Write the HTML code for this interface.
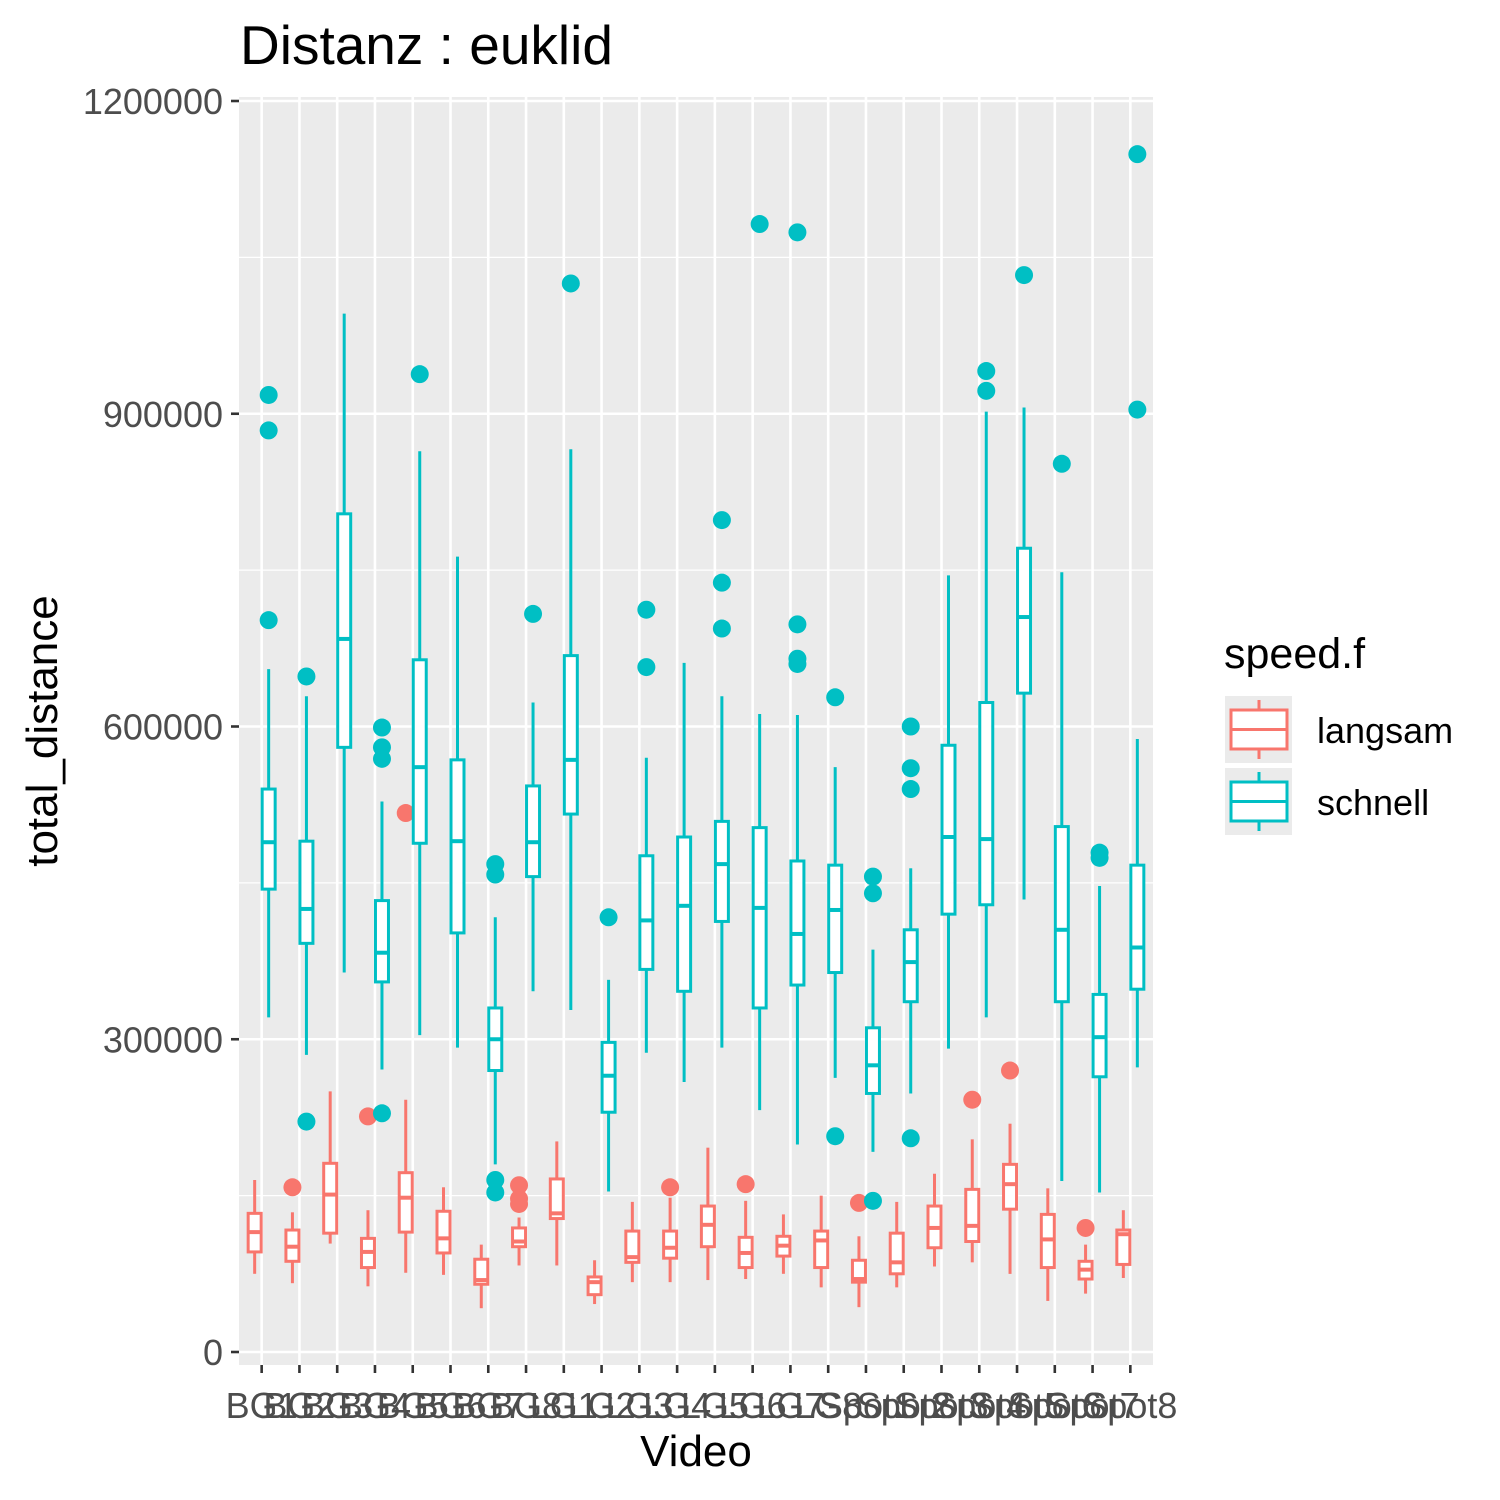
<!DOCTYPE html>
<html><head><meta charset="utf-8">
<style>
html,body{margin:0;padding:0;background:#fff;}
svg{display:block;font-family:"Liberation Sans",Arial,sans-serif;}
</style></head>
<body>
<svg id="chart" width="1500" height="1500" viewBox="0 0 1500 1500" xmlns="http://www.w3.org/2000/svg">
<rect x="0" y="0" width="1500" height="1500" fill="#fff"/>
<text x="240" y="64" font-size="55" fill="#000">Distanz : euklid</text>
<g id="panel"></g>
<g id="axes"></g>
<text x="696" y="1466" font-size="44" text-anchor="middle" fill="#000">Video</text>
<text transform="translate(57,731) rotate(-90)" font-size="44" text-anchor="middle" fill="#000">total_distance</text>
<g>
<text x="1224" y="668" font-size="43" fill="#000">speed.f</text>
<g>
<rect x="1225" y="696" width="67" height="67" fill="#ebebeb"/>
<line x1="1259" y1="700" x2="1259" y2="759" stroke="#F8766D" stroke-width="3"/>
<rect x="1231" y="710" width="56" height="39" fill="#fff" stroke="#F8766D" stroke-width="3"/>
<line x1="1231" y1="729.5" x2="1287" y2="729.5" stroke="#F8766D" stroke-width="3"/>
<text x="1317" y="743" font-size="36" fill="#000">langsam</text>
</g>
<g>
<rect x="1225" y="768" width="67" height="67" fill="#ebebeb"/>
<line x1="1259" y1="772" x2="1259" y2="831" stroke="#00BFC4" stroke-width="3"/>
<rect x="1231" y="782" width="56" height="39" fill="#fff" stroke="#00BFC4" stroke-width="3"/>
<line x1="1231" y1="801.5" x2="1287" y2="801.5" stroke="#00BFC4" stroke-width="3"/>
<text x="1317" y="815" font-size="36" fill="#000">schnell</text>
</g>
</g>
</svg>
<script>
const categories = ["BG1","BG2","BG3","BG4","BG5","BG6","BG7","BG8","LG1","LG2","LG3","LG4","LG5","LG6","LG7","LG8","Spot1","Spot2","Spot3","Spot4","Spot5","Spot6","Spot7","Spot8"];
const yTicks = [0,300000,600000,900000,1200000];
const yTickLabels = ["0","300000","600000","900000","1200000"];
// values in thousands: [whiskerLow, q1, median, q3, whiskerHigh]
const langsamStats = [
[75,96,115,133,165],[66,87,101,117,134],[104,114,151,181,250],[63,81,96,109,136],
[76,115,148,172,242],[74,95,109,135,158],[42,65,69,89,103],[83,101,106,119,129],
[83,128,133,166,202],[46,55,67,72,88],[67,86,91,116,144],[67,90,100,116,148],
[69,101,122,140,196],[70,81,95,110,145],[75,92,102,111,132],[62,81,107,116,150],
[43,67,70,88,111],[62,75,86,114,144],[82,100,119,140,171],[86,106,121,156,204],
[75,137,161,180,219],[49,81,108,132,157],[56,70,79,87,103],[71,84,113,117,136]];
const langsamOutliers = [[],[158],[],[226],[517],[],[],[160,147,142],[],[],[],[158],[],[161],[],[],[143],[],[],[242],[270],[],[119],[]];
const schnellStats = [
[321,444,489,540,655],[285,392,425,490,629],[364,580,684,804,996],[271,355,383,433,528],
[304,488,561,664,864],[292,402,490,568,763],[180,270,300,330,417],[346,456,489,543,623],
[328,516,568,668,866],[154,230,265,297,357],[287,367,414,476,570],[259,346,428,494,661],
[292,413,468,509,629],[232,330,426,503,612],[199,352,401,471,611],[263,364,424,467,561],
[192,248,275,311,386],[248,336,374,405,464],[291,420,494,582,745],[321,429,492,623,902],
[434,632,705,771,906],[164,336,405,504,748],[153,264,302,343,447],[273,348,388,467,588]];
const schnellOutliers = [[918,884,702],[648,221],[],[599,580,569,229],[938],[],[468,458,165,153],[708],
[1025],[417],[712,657],[],[798,738,694],[1082],[1074,698,665,660],[628,207],
[456,440,145],[600,560,540,205],[],[941,922],[1033],[852],[479,474],[1149,904]];

const NS="http://www.w3.org/2000/svg";
const PL=239, PR=1153, PT=97, PB=1365;
const step=(PR-PL)/(categories.length-1+1.2);
function xScale(i){return PL+step*(0.6+i);}
function yScale(v){return 1352 - v*1251/1200000;}
function mk(tag,attrs,parent){const e=document.createElementNS(NS,tag);for(const k in attrs)e.setAttribute(k,attrs[k]);parent.appendChild(e);return e;}
const panel=document.getElementById('panel');
const axes=document.getElementById('axes');
mk('rect',{x:PL,y:PT,width:PR-PL,height:PB-PT,fill:'#ebebeb'},panel);
for(let i=0;i<yTicks.length-1;i++){const v=(yTicks[i]+yTicks[i+1])/2;const y=yScale(v);
 mk('line',{x1:PL,x2:PR,y1:y,y2:y,stroke:'#fff','stroke-width':1.2},panel);}
yTicks.forEach((v,i)=>{const y=yScale(v);
 const g=mk('line',{x1:PL,x2:PR,y1:y,y2:y,stroke:'#fff','stroke-width':2.6},panel);
 
 
 mk('line',{x1:PL-8,x2:PL,y1:y,y2:y,stroke:'#333','stroke-width':2.6},axes);
 const t=mk('text',{x:PL-16,y:y+13,'font-size':36,'text-anchor':'end',fill:'#4d4d4d'},axes);
 t.textContent=yTickLabels[i];
 
 
});
categories.forEach((c,i)=>{const x=xScale(i);
 mk('line',{x1:x,x2:x,y1:PT,y2:PB,stroke:'#fff','stroke-width':2.6},panel);
 mk('line',{x1:x,x2:x,y1:PB,y2:PB+8,stroke:'#333','stroke-width':2.6},axes);
 const t=mk('text',{x:x,y:1418,'font-size':36,'text-anchor':'middle',fill:'#4d4d4d'},axes);
 t.textContent=c;
 
 
});
function drawBox(i,s,outs,color,off,name){
 const cx=xScale(i)+off, hw=6.5;
 const g=mk('g',{},panel);
 
 
 const k=1000;
 mk('line',{x1:cx,x2:cx,y1:yScale(s[0]*k),y2:yScale(s[1]*k),stroke:color,'stroke-width':3},g);
 mk('line',{x1:cx,x2:cx,y1:yScale(s[3]*k),y2:yScale(s[4]*k),stroke:color,'stroke-width':3},g);
 mk('rect',{x:cx-hw,y:yScale(s[3]*k),width:hw*2,height:yScale(s[1]*k)-yScale(s[3]*k),fill:'#fff',stroke:color,'stroke-width':3},g);
 mk('line',{x1:cx-hw,x2:cx+hw,y1:yScale(s[2]*k),y2:yScale(s[2]*k),stroke:color,'stroke-width':4},g);
 outs.forEach(o=>{const p=mk('circle',{cx:cx,cy:yScale(o*k),r:9,fill:color},g);
  
  });
}
categories.forEach((c,i)=>{
 drawBox(i,langsamStats[i],langsamOutliers[i],'#F8766D',-7,'langsam');
 drawBox(i,schnellStats[i],schnellOutliers[i],'#00BFC4',7,'schnell');
});
</script>
</body></html>
